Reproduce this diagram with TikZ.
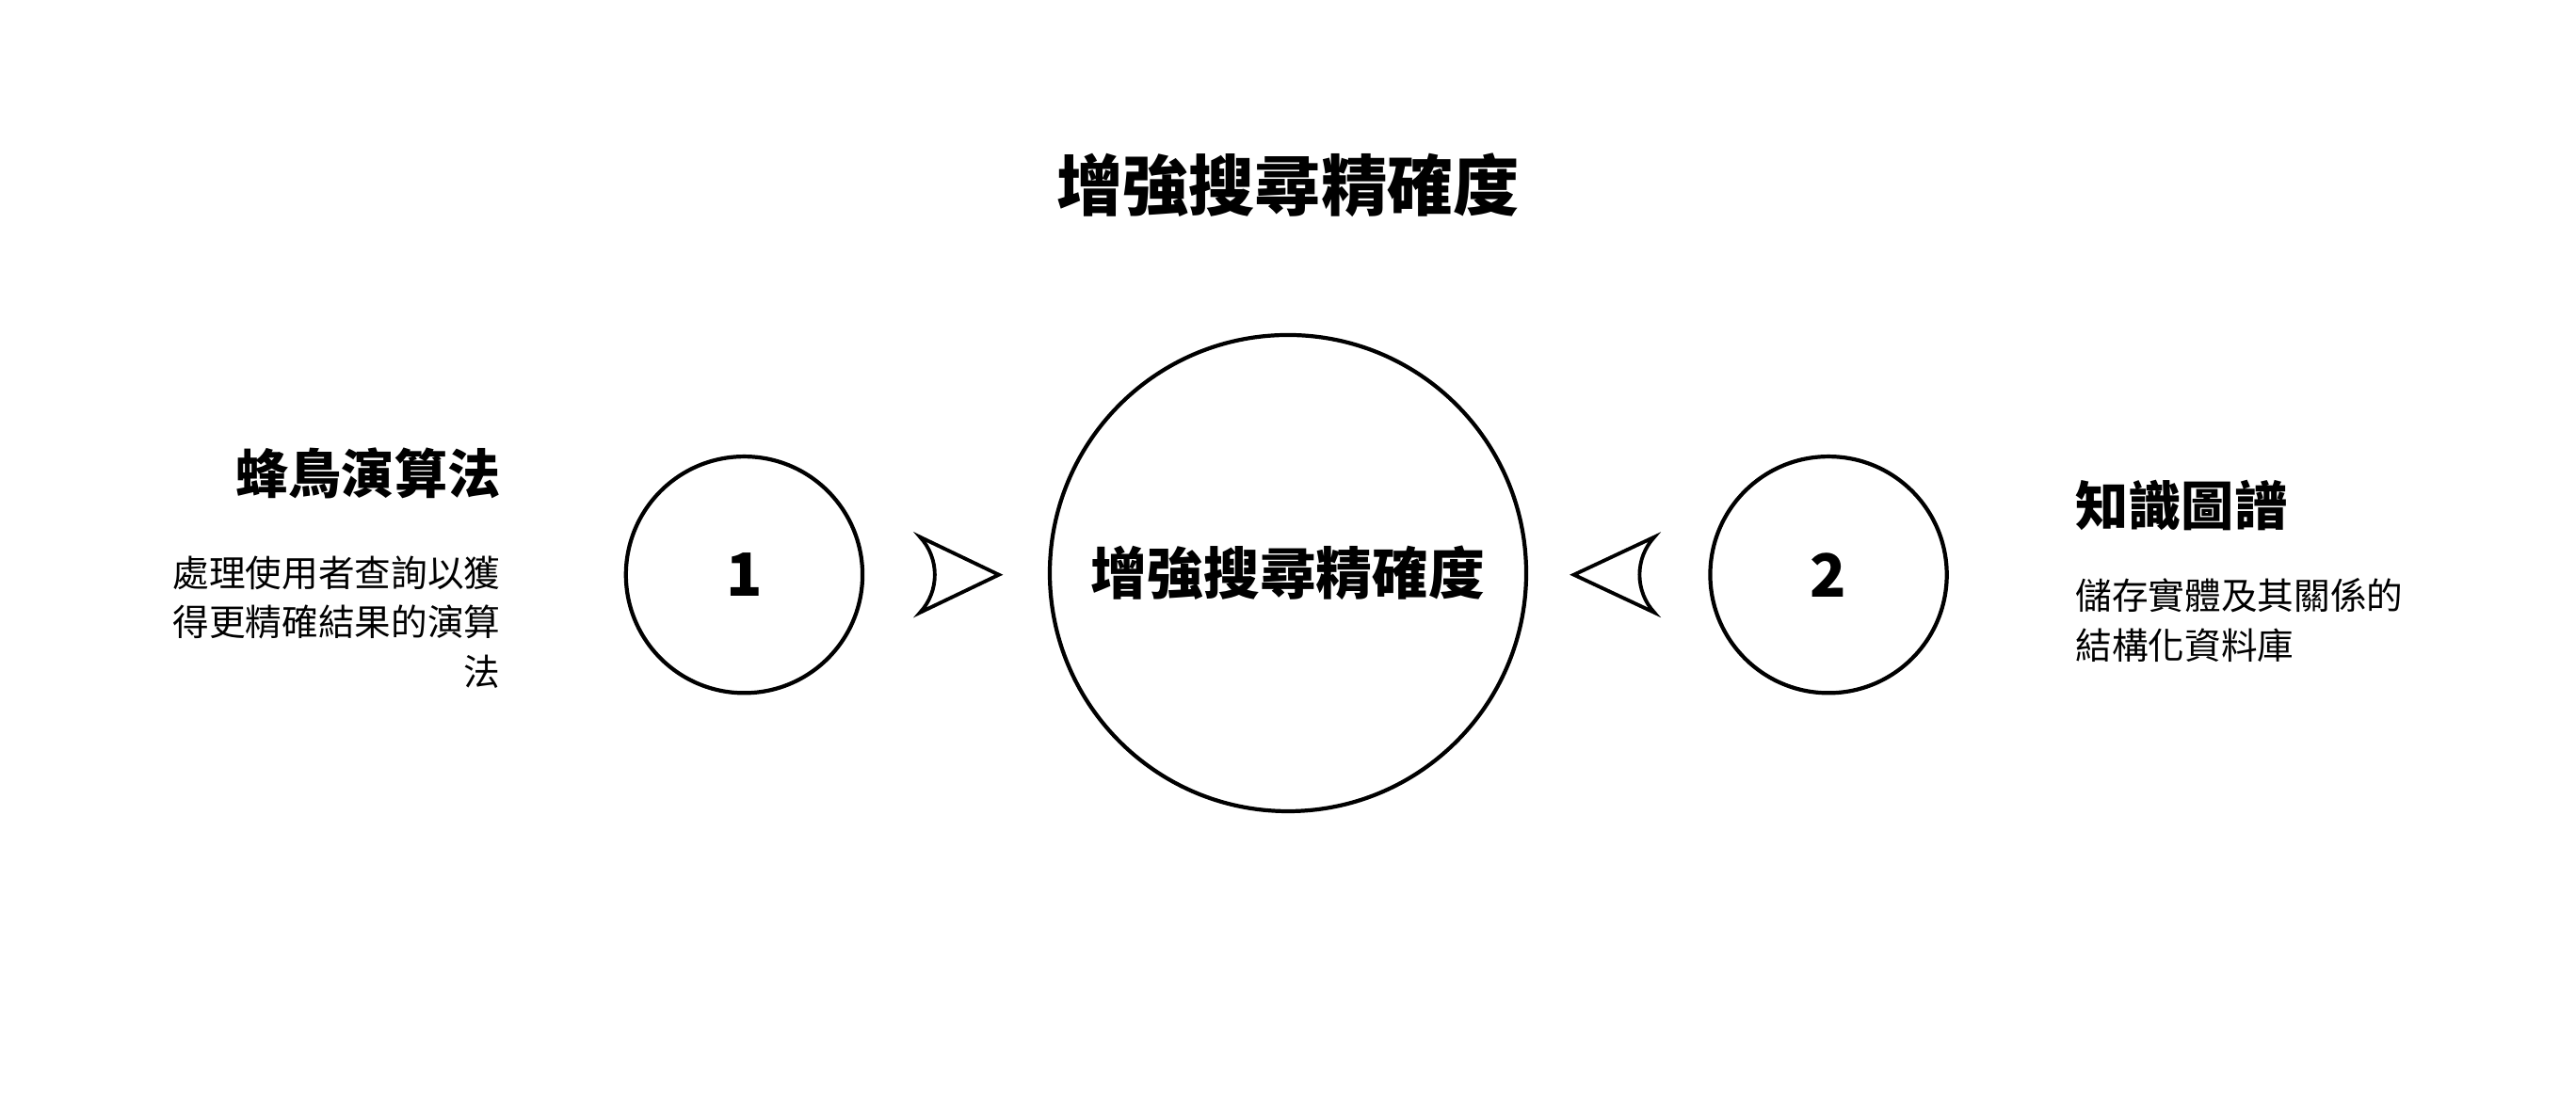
\documentclass[tikz,border=0pt]{standalone}
\usepackage{fontspec}
\setmainfont{Noto Sans CJK TC}
\usetikzlibrary{positioning}

\tikzset{
  ring/.style={draw, circle, line width=1.2pt, inner sep=0pt},
  headtext/.style={font=\fontsize{16pt}{19pt}\selectfont\bfseries},
  bodytext/.style={font=\fontsize{11pt}{15pt}\selectfont, inner sep=0pt},
  arrowtri/.style={draw, line width=1.1pt, fill=white}
}

\begin{document}
\begin{tikzpicture}[x=0.01745cm, y=-0.01745cm]
  \useasboundingbox (0,0) rectangle (1568,681);
  % title
  \node (title) at (784,113) {\fontsize{20pt}{24pt}\selectfont\bfseries 增強搜尋精確度};
  % circles
  \node[ring, minimum size=290*0.01745cm] (hub) at (784,349)
    {\fontsize{17pt}{20pt}\selectfont\bfseries 增強搜尋精確度};
  \node[ring, minimum size=144*0.01745cm] (one) at (453,350)
    {\fontsize{18pt}{20pt}\selectfont\bfseries 1};
  \node[ring, minimum size=144*0.01745cm] (two) at (1113,350)
    {\fontsize{18pt}{20pt}\selectfont\bfseries 2};
  % arrow heads
  \coordinate (ltip) at (608,350);
  \coordinate (rtip) at (958,350);
  \draw[arrowtri] (ltip) -- (560,327) .. controls (572,340) and (572,360) .. (560,373) -- cycle;
  \draw[arrowtri] (rtip) -- (1007,327) .. controls (995,340) and (995,360) .. (1007,373) -- cycle;
  % left text
  \node[headtext, anchor=east, inner sep=0pt] (lhead) at (305,288) {蜂鳥演算法};
  \node[bodytext, anchor=north east, align=right] (ldesc) at (305,338)
    {處理使用者查詢以獲\\得更精確結果的演算\\法};
  % right text
  \node[headtext, anchor=west, inner sep=0pt] (rhead) at (1263,308) {知識圖譜};
  \node[bodytext, anchor=north west, align=left] (rdesc) at (1263,352)
    {儲存實體及其關係的\\結構化資料庫};
\end{tikzpicture}
\end{document}
